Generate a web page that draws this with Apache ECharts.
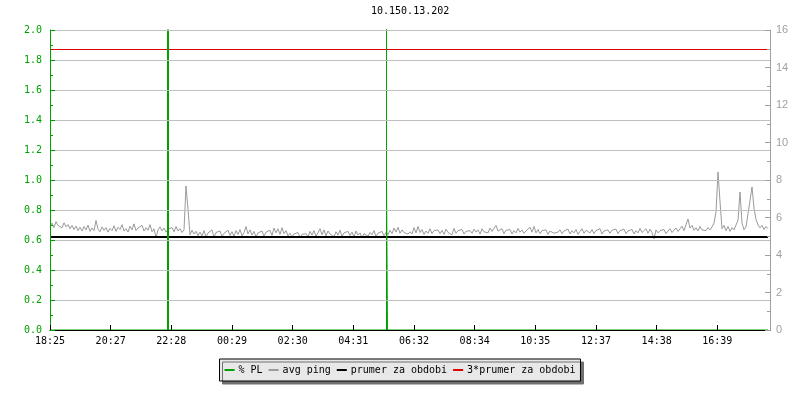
<!DOCTYPE html>
<html>
<head>
<meta charset="utf-8">
<script src="https://cdn.jsdelivr.net/npm/echarts@6/dist/echarts.min.js"></script>
<style>html,body{margin:0;padding:0;background:#fff}#c{width:800px;height:400px}</style>
</head>
<body>
<div id="c"></div>
<script>
// ---- data (minutes after 18:25 on the x axis) ----
var titleText = '10.150.13.202';
var xTickLabels = ['18:25','20:27','22:28','00:29','02:30','04:31','06:32','08:34','10:35','12:37','14:38','16:39'];
var xTickInterval = 7280 / 60; // minutes between labels (2h 01m 20s)
var xMax = 1440;
var seriesNames = ['% PL', 'avg ping', 'prumer za obdobi', '3*prumer za obdobi'];

// % PL (left axis), event points
var plTimes  = [0, 235, 235, 237, 237, 237, 673, 673, 673, 675, 675, 1436];
var plValues = [0,   0,   1,   1, 100,   0,   0, 100,   1,   1,   0,    0];

// avg ping (right axis, ms), one value every 4 minutes from 18:25 (one row per hour)
var pingStep = 4;
var pingValues = [
  5.52,5.70,5.46,5.78,5.58,5.66,5.44,5.72,5.50,5.62,5.40,5.58,5.36,5.54,5.30,
  5.48,5.28,5.52,5.34,5.60,5.26,5.44,5.30,5.84,5.38,5.24,5.50,5.32,5.46,5.22,
  5.42,5.30,5.56,5.26,5.48,5.36,5.62,5.28,5.40,5.22,5.54,5.34,5.66,5.30,5.44,
  5.36,5.58,5.28,5.46,5.32,5.62,5.24,5.40,4.92,5.34,5.50,5.28,5.44,5.22,5.38,
  5.30,5.46,5.24,5.52,5.28,5.40,5.20,5.34,7.68,6.45,5.08,5.32,5.12,5.26,5.04,
  5.22,5.02,5.30,4.96,5.18,5.08,5.34,4.94,5.20,5.10,5.28,4.98,5.16,5.06,5.32,
  5.04,5.24,4.98,5.30,5.10,5.36,5.02,5.20,5.52,5.12,5.34,5.06,5.26,4.96,5.18,
  5.08,5.28,5.00,5.22,5.12,5.32,5.04,5.44,5.18,5.40,5.10,5.46,5.14,5.30,5.02,
  5.16,4.96,5.12,5.04,5.20,4.94,5.10,5.02,5.14,4.98,5.26,5.06,5.30,5.00,5.18,
  5.40,5.08,5.34,5.02,5.28,5.12,5.20,4.98,5.24,5.06,5.32,5.00,5.18,5.10,5.26,
  5.04,5.22,4.96,5.28,5.06,5.18,4.92,5.14,5.24,5.00,5.20,5.08,5.30,4.98,5.16,
  5.10,5.26,5.02,5.20,5.08,5.32,5.14,5.44,5.22,5.48,5.16,5.34,5.20,5.28,5.12,
  5.24,5.12,5.46,5.18,5.52,5.20,5.36,5.10,5.28,5.16,5.40,5.14,5.30,5.22,5.34,
  5.14,5.32,5.10,5.38,5.20,5.28,5.08,5.42,5.16,5.30,5.24,5.36,5.12,5.26,5.18,
  5.30,5.16,5.38,5.22,5.34,5.12,5.40,5.24,5.32,5.18,5.44,5.26,5.36,5.58,5.28,
  5.20,5.40,5.14,5.32,5.24,5.36,5.12,5.30,5.18,5.42,5.22,5.34,5.16,5.28,5.20,
  5.48,5.22,5.52,5.18,5.36,5.14,5.30,5.20,5.34,5.10,5.28,5.38,5.16,5.26,5.22,
  5.34,5.14,5.28,5.20,5.38,5.12,5.30,5.18,5.36,5.10,5.26,5.40,5.16,5.32,5.22,
  5.18,5.36,5.14,5.30,5.22,5.40,5.12,5.28,5.20,5.34,5.16,5.32,5.24,5.38,5.14,
  5.30,5.20,5.38,5.14,5.28,5.22,5.36,5.12,5.30,5.18,5.42,5.20,5.26,5.40,5.16,
  5.38,5.20,4.86,5.34,5.18,5.30,5.22,5.36,5.14,5.28,5.40,5.20,5.32,5.44,5.26,
  5.36,5.54,5.30,5.62,5.92,5.44,5.58,5.32,5.46,5.28,5.52,5.34,5.40,5.30,5.46,
  5.34,5.50,5.70,6.30,8.43,6.85,5.40,5.58,5.30,5.52,5.26,5.46,5.34,5.60,5.85,
  7.36,5.70,5.35,5.50,6.20,6.90,7.63,6.50,5.90,5.60,5.45,5.58,5.36,5.52,5.40
];

// period mean and 3*mean (right axis, ms)
var meanTimes = [0, 1436];
var meanValue = 4.96;
var tripleMeanValue = 14.96;

// ---- build ----
var green = '#00a000', gray = '#9a9a9a', black = '#000000', red = '#e00000';
var font = 'DejaVu Sans Mono';

var plData = plTimes.map(function (t, i) { return [t, plValues[i]]; });
var pingData = pingValues.map(function (v, i) { return [i * pingStep, v]; });
var meanData = meanTimes.map(function (t) { return [t, meanValue]; });
var tripleData = meanTimes.map(function (t) { return [t, tripleMeanValue]; });

var chart = echarts.init(document.getElementById('c'), null, {renderer: 'canvas'});
chart.setOption({
  animation: false,
  backgroundColor: '#ffffff',
  textStyle: {fontFamily: font, fontSize: 10},
  title: {
    text: titleText, left: 371, top: 6, padding: 0,
    textStyle: {fontFamily: font, fontSize: 10, fontWeight: 'normal', color: '#000'}
  },
  legend: {
    top: 359, left: 'center',
    data: seriesNames,
    icon: 'rect', itemWidth: 10, itemHeight: 2, itemGap: 6,
    padding: [6, 5, 6, 5],
    backgroundColor: '#e8e8e8', borderColor: '#000', borderWidth: 1,
    shadowColor: '#707070', shadowBlur: 0, shadowOffsetX: 3, shadowOffsetY: 3,
    textStyle: {fontFamily: font, fontSize: 10, color: '#000', padding: [0, 0, 0, -1]}
  },
  grid: {left: 50, right: 30, top: 30, bottom: 70, containLabel: false},
  xAxis: {
    type: 'value', min: 0, max: xMax, interval: xTickInterval, z: 5,
    axisLine: {show: true, onZero: false, lineStyle: {color: '#000', width: 1}},
    axisTick: {show: true, inside: true, length: 5, lineStyle: {color: '#000'}},
    axisLabel: {
      show: true, margin: 6, color: '#000', fontFamily: font, fontSize: 10,
      showMaxLabel: false,
      formatter: function (v) {
        var idx = Math.round(v / xTickInterval);
        return (idx >= 0 && idx < xTickLabels.length) ? xTickLabels[idx] : '';
      }
    },
    splitLine: {show: false}
  },
  yAxis: [{
    type: 'value', min: 0, max: 2, interval: 0.2, position: 'left', z: 5,
    axisLine: {show: true, lineStyle: {color: green, width: 1}},
    axisTick: {show: true, inside: true, length: 5, lineStyle: {color: green}},
    minorTick: {show: true, splitNumber: 2, length: 3, lineStyle: {color: green}},
    axisLabel: {margin: 8, color: green, fontFamily: font, fontSize: 10,
      formatter: function (v) { return v.toFixed(1); }},
    splitLine: {show: true, lineStyle: {color: '#c0c0c0', width: 1}}
  }, {
    type: 'value', min: 0, max: 16, interval: 2, position: 'right', z: 5,
    axisLine: {show: true, lineStyle: {color: '#a0a0a0', width: 1}},
    axisTick: {show: true, inside: true, length: 5, lineStyle: {color: '#a0a0a0'}},
    minorTick: {show: true, splitNumber: 2, length: 3, lineStyle: {color: '#a0a0a0'}},
    axisLabel: {margin: 6, color: '#a0a0a0', fontFamily: 'Liberation Sans', fontSize: 11},
    splitLine: {show: false}
  }],
  series: [{
    name: seriesNames[0], type: 'line', yAxisIndex: 0, data: plData,
    color: green, showSymbol: false, symbol: 'none', clip: true, z: 4,
    lineStyle: {color: green, width: 1}
  }, {
    name: seriesNames[1], type: 'line', yAxisIndex: 1, data: pingData,
    color: gray, showSymbol: false, symbol: 'none', z: 2,
    lineStyle: {color: gray, width: 1}
  }, {
    name: seriesNames[2], type: 'line', yAxisIndex: 1, data: meanData,
    color: black, showSymbol: false, symbol: 'none', z: 3,
    lineStyle: {color: black, width: 2}
  }, {
    name: seriesNames[3], type: 'line', yAxisIndex: 1, data: tripleData,
    color: red, showSymbol: false, symbol: 'none', z: 3,
    lineStyle: {color: red, width: 1}
  }]
});
</script>
</body>
</html>
